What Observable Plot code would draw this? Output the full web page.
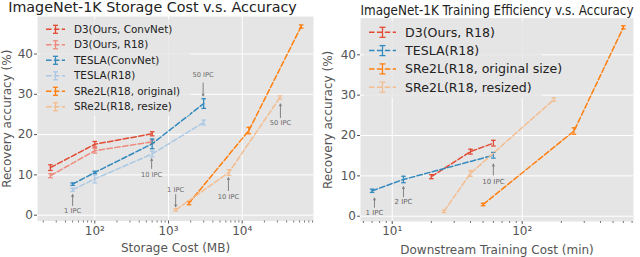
<!DOCTYPE html>
<html><head><meta charset="utf-8">
<script src="https://cdn.jsdelivr.net/npm/d3@7"></script>
<script src="https://cdn.jsdelivr.net/npm/@observablehq/plot@0.6"></script>
<style>
body{margin:0;background:#fff;font-family:"DejaVu Sans",sans-serif;}
#wrap{position:relative;width:640px;height:257px;overflow:hidden;}
.title{position:absolute;white-space:nowrap;color:#222;line-height:1;}
.panel{position:absolute;top:0;}
</style></head><body>
<div id="wrap">
<div class="panel" id="left" style="left:0"></div>
<div class="panel" id="right" style="left:320px"></div>
<div class="title" style="left:152.5px;top:-0.5px;font-size:14.3px;transform:translateX(-50%)">ImageNet-1K Storage Cost v.s. Accuracy</div>
<div class="title" style="left:497px;top:3px;font-size:14px;transform:translateX(-50%) scaleX(0.855)">ImageNet-1K Training Efficiency v.s. Accuracy</div>
</div>
<script>
// ---------- Left panel: storage cost (MB) vs accuracy ----------
const storageLabels = ["D3(Ours, ConvNet)", "D3(Ours, R18)", "TESLA(ConvNet)", "TESLA(R18)", "SRe2L(R18, original)", "SRe2L(R18, resize)"];
const storageD3ConvX = [25, 100, 600];
const storageD3ConvY = [11.8, 17.6, 20.2];
const storageD3ConvErr = [0.7, 0.7, 0.5];
const storageD3R18X = [25, 100, 600];
const storageD3R18Y = [9.8, 16.0, 18.2];
const storageD3R18Err = [0.5, 0.6, 0.4];
const storageTeslaConvX = [50, 100, 600, 3000];
const storageTeslaConvY = [7.7, 10.6, 17.7, 27.7];
const storageTeslaConvErr = [0.3, 0.3, 1.2, 1.2];
const storageTeslaR18X = [50, 100, 600, 3000];
const storageTeslaR18Y = [6.3, 9.0, 15.2, 23.0];
const storageTeslaR18Err = [0.4, 1.0, 0.7, 0.6];
const storageSre2lOrigX = [1900, 12300, 63000];
const storageSre2lOrigY = [3.0, 21.0, 46.8];
const storageSre2lOrigErr = [0.4, 0.8, 0.4];
const storageSre2lResizeX = [1250, 6600, 32500];
const storageSre2lResizeY = [1.3, 10.6, 29.2];
const storageSre2lResizeErr = [0.3, 0.7, 0.4];
const storageTicks = [100, 1000, 10000];
const storageTickLabels = ["10²", "10³", "10⁴"];
const storageNotes = ["50 IPC", "50 IPC", "10 IPC", "1 IPC", "1 IPC", "10 IPC"];
const storageNoteX = [2950, 33000, 590, 50, 1250, 6500];
const storageNoteY = [34.8, 22.9, 10.1, 1.2, 6.4, 4.6];
const storageArrowY1 = [32.8, 24.2, 11.6, 2.4, 5.1, 6.1];
const storageArrowY2 = [29.6, 27.6, 14.0, 5.1, 2.1, 9.3];

// ---------- Right panel: downstream training cost (min) vs accuracy ----------
const trainLabels = ["D3(Ours, R18)", "TESLA(R18)", "SRe2L(R18, original size)", "SRe2L(R18, resized)"];
const trainD3X = [20, 40, 60];
const trainD3Y = [9.8, 16.0, 18.1];
const trainD3Err = [0.5, 0.6, 0.7];
const trainTeslaX = [7, 12.2, 60];
const trainTeslaY = [6.3, 9.1, 15.1];
const trainTeslaErr = [0.4, 0.8, 0.7];
const trainSre2lOrigX = [50, 250, 600];
const trainSre2lOrigY = [2.9, 21.1, 46.8];
const trainSre2lOrigErr = [0.3, 0.8, 0.4];
const trainSre2lResizedX = [25, 40, 175];
const trainSre2lResizedY = [1.2, 10.6, 28.9];
const trainSre2lResizedErr = [0.3, 0.7, 0.4];
const trainTicks = [10, 100];
const trainTickLabels = ["10¹", "10²"];
const trainNotes = ["10 IPC", "2 IPC", "1 IPC"];
const trainNoteX = [60, 12.2, 7.3];
const trainNoteY = [8.5, 3.6, 0.9];
const trainArrowY1 = [10.2, 4.8, 2.2];
const trainArrowY2 = [12.9, 7.3, 4.5];

const yTicks = [0, 10, 20, 30, 40];

const RED = "#E24A33", RED_L = "#ee8a7c", BLUE = "#348ABD", BLUE_L = "#abc8e4", ORANGE = "#FF7F0E", ORANGE_L = "#f3bd90";

function rows(xs, ys, es) { return xs.map((x, i) => ({x, y: ys[i], e: es[i]})); }
function minorTicks(lo, hi) {
  const out = [];
  for (let p = Math.floor(Math.log10(lo)); p <= Math.ceil(Math.log10(hi)); p++)
    for (let k = 2; k <= 9; k++) { const v = k * 10 ** p; if (v >= lo && v <= hi) out.push(v); }
  return out;
}
const cap = {draw(ctx) { ctx.moveTo(-2.3, 0); ctx.lineTo(2.3, 0); }};

function seriesMarks(s) {
  const d = rows(s.x, s.y, s.e);
  return [
    Plot.line(d, {x: "x", y: "y", stroke: s.color, strokeWidth: 1.5, strokeDasharray: "5.5,2.4"}),
    Plot.ruleX(d, {x: "x", y1: r => r.y - r.e, y2: r => r.y + r.e, stroke: s.color, strokeWidth: 1.3}),
    Plot.dot(d, {x: "x", y: r => r.y - r.e, symbol: cap, r: 2, fill: "none", stroke: s.color, strokeWidth: 1.3}),
    Plot.dot(d, {x: "x", y: r => r.y + r.e, symbol: cap, r: 2, fill: "none", stroke: s.color, strokeWidth: 1.3})
  ];
}

function panel(o) {
  const notes = o.notes.map((t, i) => ({t, x: o.noteX[i], y: o.noteY[i], y1: o.arrowY1[i], y2: o.arrowY2[i]}));
  const svg = Plot.plot({
    width: 320, height: 257,
    marginLeft: o.ml, marginRight: o.mr, marginTop: o.mt, marginBottom: o.mb,
    style: {fontFamily: "DejaVu Sans", fontSize: "12px", color: "#555", background: "transparent", overflow: "visible"},
    x: {type: "log", domain: o.xDomain},
    y: {domain: o.yDomain},
    marks: [
      Plot.frame({fill: "#E5E5E5", stroke: "none"}),
      Plot.gridX({ticks: o.ticks, stroke: "white", strokeOpacity: 1, strokeWidth: 1}),
      Plot.gridY({ticks: yTicks, stroke: "white", strokeOpacity: 1, strokeWidth: 1}),
      Plot.axisX({ticks: minorTicks(o.xDomain[0], o.xDomain[1]), tickSize: 2, tickFormat: () => "", label: null, stroke: "#777"}),
      Plot.axisX({ticks: o.ticks, tickSize: 3, tickPadding: 2, tickFormat: d => o.tickLabels[o.ticks.indexOf(d)], fontSize: 12,
        label: o.xLabel, labelAnchor: "center", labelOffset: o.xlo, labelArrow: "none", stroke: "#555"}),
      Plot.axisY({ticks: yTicks, tickSize: 3, tickPadding: 1.5, fontSize: 12,
        label: "Recovery accuracy (%)", labelAnchor: "center", labelOffset: o.ylo, labelArrow: "none", stroke: "#555"}),
      ...o.series.flatMap(seriesMarks),
      Plot.text(notes, {x: "x", y: "y", text: "t", fontSize: o.noteSize, fill: "#666"}),
      Plot.arrow(notes, {x1: "x", x2: "x", y1: "y1", y2: "y2", stroke: "#777", strokeWidth: 0.9, headLength: 3.5, headAngle: 50})
    ]
  });
  // legend
  const L = o.legend;
  const g = d3.select(svg).append("g").attr("text-anchor", "start");
  g.append("rect").attr("x", L.x).attr("y", L.y).attr("width", L.w).attr("height", L.h).attr("rx", 3)
    .attr("fill", "#E5E5E5").attr("fill-opacity", 0.8);
  o.series.forEach((s, i) => {
    const cy = L.y0 + i * L.dy, cx = (L.lx1 + L.lx2) / 2;
    g.append("line").attr("x1", L.lx1).attr("x2", L.lx2).attr("y1", cy).attr("y2", cy)
      .attr("stroke", s.color).attr("stroke-width", 1.5).attr("stroke-dasharray", "5.5,2.4");
    g.append("line").attr("x1", cx).attr("x2", cx).attr("y1", cy - L.eh).attr("y2", cy + L.eh).attr("stroke", s.color).attr("stroke-width", 1.3);
    [cy - L.eh, cy + L.eh].forEach(yy => g.append("line").attr("x1", cx - L.cw).attr("x2", cx + L.cw).attr("y1", yy).attr("y2", yy).attr("stroke", s.color).attr("stroke-width", 1.3));
    g.append("text").attr("x", L.tx).attr("y", cy).attr("dy", "0.35em").attr("fill", "#222").attr("text-anchor", "start")
      .attr("font-size", L.fs).attr("font-family", "DejaVu Sans").text(s.label);
  });
  return svg;
}

const leftSvg = panel({
  ml: 37, mr: 7, mt: 16, mb: 36.5, xlo: 31, ylo: 35,
  xDomain: [16.7, 92700], yDomain: [-1.44, 49.3],
  ticks: storageTicks, tickLabels: storageTickLabels, xLabel: "Storage Cost (MB)",
  notes: storageNotes, noteX: storageNoteX, noteY: storageNoteY, arrowY1: storageArrowY1, arrowY2: storageArrowY2, noteSize: 6.7,
  series: [
    {label: storageLabels[0], color: RED, x: storageD3ConvX, y: storageD3ConvY, e: storageD3ConvErr},
    {label: storageLabels[1], color: RED_L, x: storageD3R18X, y: storageD3R18Y, e: storageD3R18Err},
    {label: storageLabels[2], color: BLUE, x: storageTeslaConvX, y: storageTeslaConvY, e: storageTeslaConvErr},
    {label: storageLabels[3], color: BLUE_L, x: storageTeslaR18X, y: storageTeslaR18Y, e: storageTeslaR18Err},
    {label: storageLabels[4], color: ORANGE, x: storageSre2lOrigX, y: storageSre2lOrigY, e: storageSre2lOrigErr},
    {label: storageLabels[5], color: ORANGE_L, x: storageSre2lResizeX, y: storageSre2lResizeY, e: storageSre2lResizeErr}
  ],
  legend: {x: 40, y: 19, w: 150, h: 97, y0: 29.3, dy: 15.5, lx1: 46, lx2: 65, tx: 74, fs: 10.4, eh: 4, cw: 2.5}
});
document.getElementById("left").appendChild(leftSvg);

const rightSvg = panel({
  ml: 40, mr: 7, mt: 17.7, mb: 36, xlo: 32, ylo: 37,
  xDomain: [5.7, 718], yDomain: [-1.31, 49.07],
  ticks: trainTicks, tickLabels: trainTickLabels, xLabel: "Downstream Training Cost (min)",
  notes: trainNotes, noteX: trainNoteX, noteY: trainNoteY, arrowY1: trainArrowY1, arrowY2: trainArrowY2, noteSize: 7,
  series: [
    {label: trainLabels[0], color: RED, x: trainD3X, y: trainD3Y, e: trainD3Err},
    {label: trainLabels[1], color: BLUE, x: trainTeslaX, y: trainTeslaY, e: trainTeslaErr},
    {label: trainLabels[2], color: ORANGE, x: trainSre2lOrigX, y: trainSre2lOrigY, e: trainSre2lOrigErr},
    {label: trainLabels[3], color: ORANGE_L, x: trainSre2lResizedX, y: trainSre2lResizedY, e: trainSre2lResizedErr}
  ],
  legend: {x: 44, y: 21, w: 178, h: 77, y0: 32.3, dy: 18.3, lx1: 49, lx2: 76, tx: 85, fs: 12.6, eh: 5, cw: 3}
});
document.getElementById("right").appendChild(rightSvg);
</script>
</body></html>
